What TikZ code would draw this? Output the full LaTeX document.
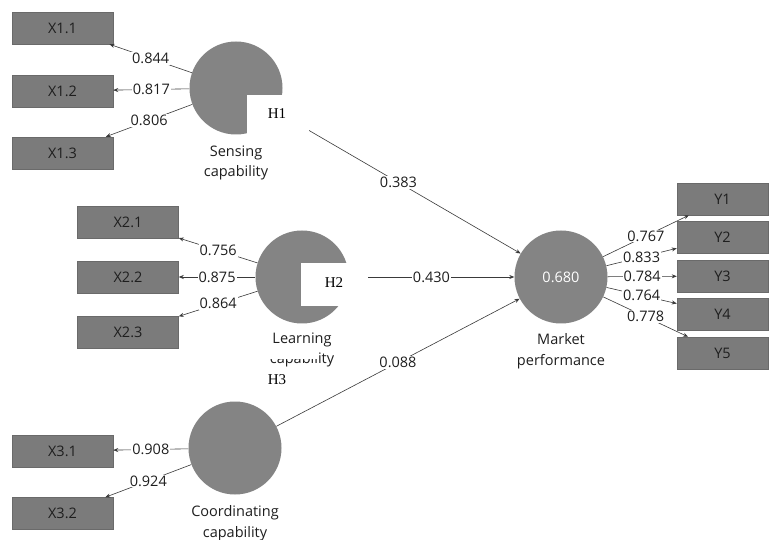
\documentclass[tikz,border=0pt]{standalone}
\usepackage{fontspec}
\setmainfont{Open Sans}
\newfontfamily\hfont{Liberation Serif}
\usetikzlibrary{arrows.meta}
\definecolor{boxgray}{HTML}{7B7B7B}
\definecolor{boxedge}{HTML}{6A6A6A}
\definecolor{circgray}{HTML}{848484}
\definecolor{txtdark}{HTML}{1E1E1E}
\definecolor{linegray}{HTML}{3A3A3A}
\tikzset{
  ind/.style={rectangle, fill=boxgray, draw=boxedge, line width=0.5pt, minimum width=101pt, minimum height=32pt, inner sep=0pt, text=txtdark, font=\fontsize{14.5}{16}\selectfont},
  yind/.style={ind, minimum width=91pt},
  lat/.style={circle, fill=circgray, minimum size=93pt, inner sep=0pt, text=white, font=\fontsize{14.5}{16}\selectfont},
  latlab/.style={align=center, text=txtdark, font=\fontsize{14.5}{20.5}\selectfont},
  ld/.style={draw=linegray, line width=0.6pt, -{Stealth[length=5pt,width=4pt]}},
  lab/.style={fill=white, inner sep=1pt, text=txtdark, font=\fontsize{14.5}{16}\selectfont},
  hbox/.style={fill=white, draw=none},
  htext/.style={font=\hfont\fontsize{15}{17}\selectfont, text=black}
}
\begin{document}
\begin{tikzpicture}[x=1pt, y=-1pt]
\useasboundingbox[fill=white] (0,0) rectangle (769,540);
% latent variables
\node[lat] (S) at (236,88) {};
\node[lat] (L) at (302,277) {};
\node[lat] (C) at (235,448) {};
\node[lat] (M) at (561,277) {0.680};
% latent labels
\node[latlab] (Slab) at (236,163) {Sensing\\capability};
\node[latlab] (Llab) at (302,350) {Learning\\capability};
\node[latlab] (Clab) at (235,523) {Coordinating\\capability};
\node[latlab] (Mlab) at (561,351) {Market\\performance};
% indicators
\node[ind] (X11) at (62.5,28) {X1.1};
\node[ind] (X12) at (62.5,91) {X1.2};
\node[ind] (X13) at (62.5,153) {X1.3};
\node[ind] (X21) at (128,222) {X2.1};
\node[ind] (X22) at (128,277) {X2.2};
\node[ind] (X23) at (128,332.5) {X2.3};
\node[ind] (X31) at (62.5,451) {X3.1};
\node[ind] (X32) at (62.5,513.5) {X3.2};
\node[yind] (Y1) at (722.5,199) {Y1};
\node[yind] (Y2) at (722.5,237) {Y2};
\node[yind] (Y3) at (722.5,276) {Y3};
\node[yind] (Y4) at (722.5,314) {Y4};
\node[yind] (Y5) at (722.5,353) {Y5};
% outer loadings
\draw[ld] (S) -- node[lab]{0.844} (X11);
\draw[ld] (S) -- node[lab]{0.817} (X12);
\draw[ld] (S) -- node[lab]{0.806} (X13);
\draw[ld] (L) -- node[lab]{0.756} (X21);
\draw[ld] (L) -- node[lab]{0.875} (X22);
\draw[ld] (L) -- node[lab]{0.864} (X23);
\draw[ld] (C) -- node[lab]{0.908} (X31);
\draw[ld] (C) -- node[lab]{0.924} (X32);
\draw[ld] (M) -- node[lab]{0.767} (Y1);
\draw[ld] (M) -- node[lab]{0.833} (Y2);
\draw[ld] (M) -- node[lab]{0.784} (Y3);
\draw[ld] (M) -- node[lab]{0.764} (Y4);
\draw[ld] (M) -- node[lab]{0.778} (Y5);
% structural paths
\draw[ld] (S) -- node[lab]{0.383} (M);
\draw[ld] (L) -- node[lab]{0.430} (M);
\draw[ld] (C) -- node[lab]{0.088} (M);
% hypothesis overlays
\fill[hbox] (247,95) rectangle (309,135);
\fill[hbox] (301,263) rectangle (368,306);
\fill[hbox] (266,350) rectangle (317,359);
\node[htext] (H1) at (277,114) {H1};
\node[htext] (H2) at (334,283) {H2};
\node[htext] (H3) at (277,380) {H3};
\end{tikzpicture}
\end{document}
